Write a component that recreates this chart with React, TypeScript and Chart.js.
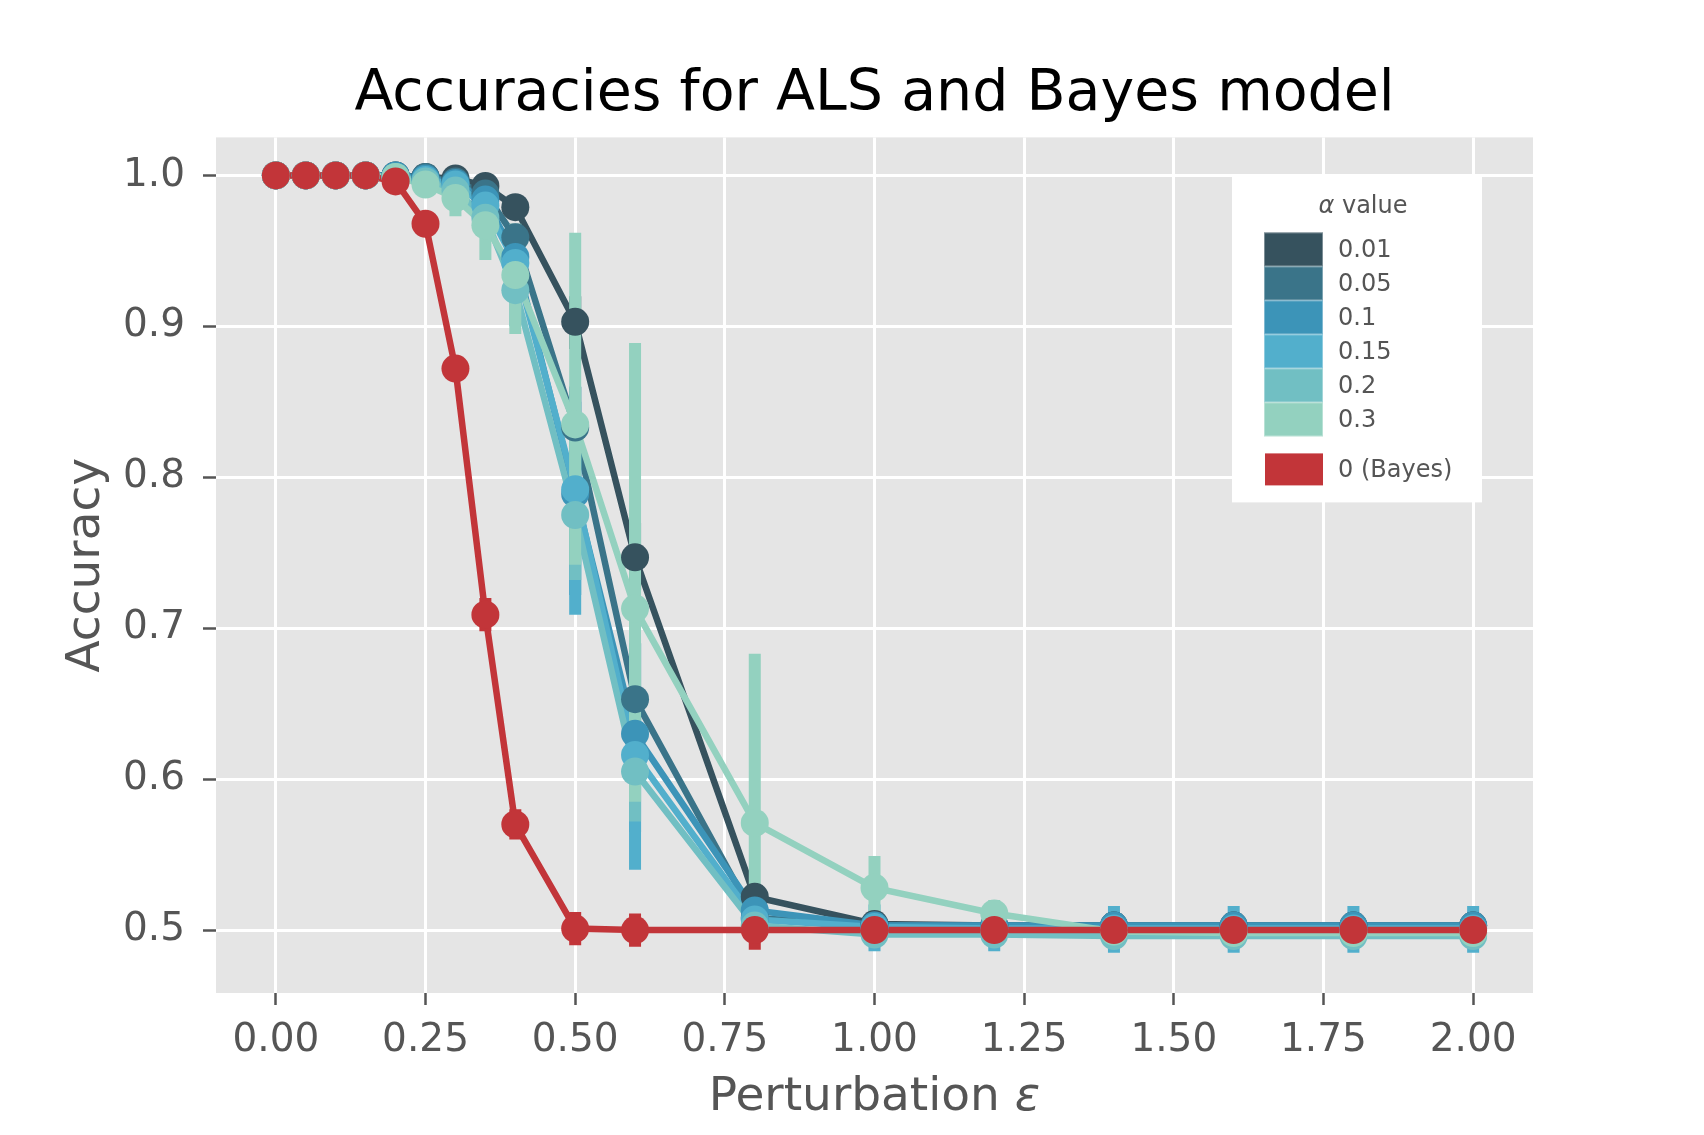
import { Chart, registerables } from "chart.js";
import { useEffect, useRef } from "react";

Chart.register(...registerables);

// perturbation epsilon values where accuracy was measured
const epsilons = [0, 0.05, 0.1, 0.15, 0.2, 0.25, 0.3, 0.35, 0.4, 0.5, 0.6, 0.8, 1.0, 1.2, 1.4, 1.6, 1.8, 2.0];

const xTicks = [0, 0.25, 0.5, 0.75, 1.0, 1.25, 1.5, 1.75, 2.0];
const yTicks = [0.5, 0.6, 0.7, 0.8, 0.9, 1.0];

const alphaLabels = ["0.01", "0.05", "0.1", "0.15", "0.2", "0.3"];
const bayesLabel = "0 (Bayes)";

// mean accuracy per alpha (ALS) and for Bayes
const als001 = [1, 1, 1, 1, 1.0, 0.999, 0.998, 0.993, 0.979, 0.903, 0.747, 0.522, 0.504, 0.503, 0.503, 0.503, 0.503, 0.503];
const als005 = [1, 1, 1, 1, 1.0, 0.999, 0.996, 0.988, 0.959, 0.833, 0.653, 0.508, 0.503, 0.503, 0.503, 0.503, 0.503, 0.503];
const als01 = [1, 1, 1, 1, 1.0, 0.998, 0.995, 0.984, 0.946, 0.789, 0.63, 0.513, 0.503, 0.503, 0.503, 0.503, 0.503, 0.503];
const als015 = [1, 1, 1, 1, 0.999, 0.997, 0.994, 0.98, 0.942, 0.792, 0.616, 0.507, 0.502, 0.501, 0.501, 0.501, 0.501, 0.501];
const als02 = [1, 1, 1, 1, 0.999, 0.996, 0.99, 0.972, 0.924, 0.775, 0.605, 0.503, 0.497, 0.497, 0.496, 0.496, 0.496, 0.496];
const als03 = [1, 1, 1, 1, 0.999, 0.994, 0.985, 0.967, 0.934, 0.835, 0.713, 0.571, 0.528, 0.511, 0.499, 0.498, 0.498, 0.498];
const bayes = [1, 1, 1, 1, 0.996, 0.968, 0.872, 0.709, 0.57, 0.501, 0.5, 0.5, 0.5, 0.5, 0.5, 0.5, 0.5, 0.5];

// confidence interval bounds (null = too small to show)
const n = null;
const als001Lo = [n, n, n, n, n, n, n, 0.989, 0.972, 0.885, 0.725, 0.514, 0.5, 0.5, 0.5, 0.5, 0.5, 0.5];
const als001Hi = [n, n, n, n, n, n, n, 0.996, 0.985, 0.92, 0.77, 0.53, 0.507, 0.506, 0.506, 0.506, 0.506, 0.506];
const als005Lo = [n, n, n, n, n, n, n, 0.982, 0.948, 0.8, 0.62, 0.5, 0.499, 0.499, 0.499, 0.499, 0.499, 0.499];
const als005Hi = [n, n, n, n, n, n, n, 0.993, 0.968, 0.86, 0.69, 0.516, 0.507, 0.507, 0.507, 0.507, 0.507, 0.507];
const als01Lo = [n, n, n, n, n, n, n, 0.976, 0.93, 0.722, 0.565, 0.5, 0.497, 0.497, 0.497, 0.497, 0.497, 0.497];
const als01Hi = [n, n, n, n, n, n, n, 0.99, 0.96, 0.85, 0.69, 0.525, 0.509, 0.509, 0.509, 0.509, 0.509, 0.509];
const als015Lo = [n, n, n, n, n, n, n, 0.97, 0.925, 0.709, 0.54, 0.494, 0.486, 0.486, 0.485, 0.485, 0.485, 0.485];
const als015Hi = [n, n, n, n, n, n, n, 0.99, 0.958, 0.86, 0.69, 0.52, 0.517, 0.517, 0.516, 0.516, 0.516, 0.516];
const als02Lo = [n, n, n, n, n, n, n, 0.96, 0.9, 0.732, 0.572, 0.494, 0.492, 0.492, 0.491, 0.491, 0.491, 0.491];
const als02Hi = [n, n, n, n, n, n, n, 0.983, 0.945, 0.83, 0.65, 0.513, 0.503, 0.503, 0.502, 0.502, 0.502, 0.502];
const als03Lo = [n, n, n, n, n, 0.99, 0.973, 0.944, 0.895, 0.742, 0.585, 0.5, 0.507, 0.503, 0.495, 0.495, 0.495, 0.495];
const als03Hi = [n, n, n, n, n, 0.998, 0.995, 0.988, 0.968, 0.962, 0.889, 0.683, 0.549, 0.52, 0.503, 0.502, 0.502, 0.502];
const bayesLo = [n, n, n, n, n, 0.962, 0.864, 0.698, 0.56, 0.49, 0.489, 0.487, n, n, n, n, n, n];
const bayesHi = [n, n, n, n, n, 0.974, 0.88, 0.72, 0.58, 0.512, 0.511, 0.51, n, n, n, n, n, n];

const alphaColors = ["#36525e", "#3a7489", "#3c94b8", "#52afcc", "#71bfc3", "#93d1bf"];
const bayesColor = "#c23539";

const FONT = "DejaVu Sans";

const series = [
  { label: alphaLabels[0], color: alphaColors[0], values: als001, lo: als001Lo, hi: als001Hi },
  { label: alphaLabels[1], color: alphaColors[1], values: als005, lo: als005Lo, hi: als005Hi },
  { label: alphaLabels[2], color: alphaColors[2], values: als01, lo: als01Lo, hi: als01Hi },
  { label: alphaLabels[3], color: alphaColors[3], values: als015, lo: als015Lo, hi: als015Hi },
  { label: alphaLabels[4], color: alphaColors[4], values: als02, lo: als02Lo, hi: als02Hi },
  { label: alphaLabels[5], color: alphaColors[5], values: als03, lo: als03Lo, hi: als03Hi },
  { label: bayesLabel, color: bayesColor, values: bayes, lo: bayesLo, hi: bayesHi },
];

const backgroundPlugin = {
  id: "ggBackground",
  beforeDraw(chart: any) {
    const { ctx, chartArea } = chart;
    ctx.save();
    ctx.fillStyle = "#ffffff";
    ctx.fillRect(0, 0, chart.width, chart.height);
    ctx.fillStyle = "#e5e5e5";
    ctx.fillRect(chartArea.left, chartArea.top, chartArea.width, chartArea.height);
    ctx.restore();
  },
};

// draws the confidence intervals right after each line dataset
const errorBarPlugin = {
  id: "errorBars",
  afterDatasetDraw(chart: any, args: any) {
    const ds = chart.data.datasets[args.index];
    if (!ds.errLo) return;
    const { ctx, chartArea } = chart;
    const xs = chart.scales.x;
    const ys = chart.scales.y;
    ctx.save();
    ctx.beginPath();
    ctx.rect(chartArea.left, chartArea.top, chartArea.width, chartArea.height);
    ctx.clip();
    ctx.strokeStyle = ds.borderColor;
    ctx.lineWidth = 12;
    ctx.lineCap = "butt";
    epsilons.forEach((e, j) => {
      const lo = ds.errLo[j];
      const hi = ds.errHi[j];
      if (lo == null || hi == null) return;
      const px = xs.getPixelForValue(e);
      ctx.beginPath();
      ctx.moveTo(px, ys.getPixelForValue(lo));
      ctx.lineTo(px, ys.getPixelForValue(hi));
      ctx.stroke();
    });
    ctx.restore();
  },
};

// x axis title, with an italic epsilon like matplotlib mathtext
const xTitlePlugin = {
  id: "xTitle",
  afterDraw(chart: any) {
    const { ctx, chartArea } = chart;
    const a = "Perturbation ";
    const b = "ε";
    ctx.save();
    ctx.fillStyle = "#555555";
    ctx.textBaseline = "alphabetic";
    ctx.textAlign = "left";
    ctx.font = `47px ${FONT}`;
    const aW = ctx.measureText(a).width;
    ctx.font = `italic 47px ${FONT}`;
    const bW = ctx.measureText(b).width;
    const x0 = (chartArea.left + chartArea.right) / 2 - (aW + bW) / 2;
    const y0 = chartArea.bottom + 117;
    ctx.font = `47px ${FONT}`;
    ctx.fillText(a, x0, y0);
    ctx.font = `italic 47px ${FONT}`;
    ctx.fillText(b, x0 + aW, y0);
    ctx.restore();
  },
};

const legendPlugin = {
  id: "alphaLegend",
  afterDraw(chart: any) {
    const { ctx, chartArea } = chart;
    const left = chartArea.right - 301;
    const top = chartArea.top + 37;
    const w = 250;
    const h = 328;
    ctx.save();
    ctx.fillStyle = "#ffffff";
    ctx.fillRect(left, top, w, h);

    // title with italic alpha
    ctx.fillStyle = "#555555";
    ctx.textBaseline = "alphabetic";
    ctx.font = `italic 24px ${FONT}`;
    const aW = ctx.measureText("α").width;
    ctx.font = `24px ${FONT}`;
    const rest = " value";
    const rW = ctx.measureText(rest).width;
    const tx = left + 131 - (aW + rW) / 2;
    ctx.font = `italic 24px ${FONT}`;
    ctx.textAlign = "left";
    ctx.fillText("α", tx, top + 39);
    ctx.font = `24px ${FONT}`;
    ctx.fillText(rest, tx + aW, top + 39);

    ctx.font = `24px ${FONT}`;
    ctx.textBaseline = "middle";
    alphaLabels.forEach((lab, i) => {
      const by = top + 58 + i * 34;
      ctx.fillStyle = alphaColors[i];
      ctx.fillRect(left + 32, by, 59, 34);
      ctx.strokeStyle = "rgba(255,255,255,0.35)";
      ctx.lineWidth = 1;
      ctx.strokeRect(left + 32.5, by + 0.5, 58, 33);
      ctx.fillStyle = "#555555";
      ctx.fillText(lab, left + 106, by + 18);
    });
    const ry = top + 279;
    ctx.fillStyle = bayesColor;
    ctx.fillRect(left + 33, ry, 58, 32);
    ctx.fillStyle = "#555555";
    ctx.fillText(bayesLabel, left + 106, ry + 17);
    ctx.restore();
  },
};

export default function App() {
  const canvasRef = useRef<HTMLCanvasElement>(null);
  const chartRef = useRef<Chart | null>(null);

  useEffect(() => {
    document.body.style.margin = "0";
    if (!canvasRef.current) return;
    if (chartRef.current) chartRef.current.destroy();

    const lineSets = series.map((s, i) => ({
      type: "line" as const,
      label: s.label,
      data: epsilons.map((e, j) => ({ x: e, y: s.values[j] })),
      borderColor: s.color,
      backgroundColor: s.color,
      borderWidth: 6.5,
      pointRadius: 0,
      pointHoverRadius: 0,
      showLine: true,
      tension: 0,
      order: 20 - i,
      errLo: s.lo,
      errHi: s.hi,
    }));
    const pointSets = series.map((s, i) => ({
      type: "line" as const,
      label: s.label + " points",
      data: epsilons.map((e, j) => ({ x: e, y: s.values[j] })),
      borderColor: s.color,
      backgroundColor: s.color,
      pointBackgroundColor: s.color,
      pointBorderWidth: 0,
      pointRadius: 14,
      showLine: false,
      order: 10 - i,
    }));

    chartRef.current = new Chart(canvasRef.current, {
      type: "line",
      data: { datasets: [...lineSets, ...pointSets] as any },
      options: {
        animation: false,
        responsive: false,
        devicePixelRatio: 1,
        layout: { padding: { right: 171, left: 0, top: 0, bottom: 0 } },
        plugins: {
          legend: { display: false },
          tooltip: { enabled: false },
          title: {
            display: true,
            text: "Accuracies for ALS and Bayes model",
            color: "#000000",
            fullSize: false,
            font: { family: FONT, size: 57, weight: "normal" },
            padding: { top: 61, bottom: 8 },
          },
        },
        scales: {
          x: {
            type: "linear",
            min: -0.1,
            max: 2.1,
            afterBuildTicks: (s: any) => {
              s.ticks = xTicks.map((v) => ({ value: v }));
            },
            afterFit: (s: any) => {
              s.height = 142;
            },
            ticks: {
              callback: (v: any) => Number(v).toFixed(2),
              color: "#555555",
              font: { family: FONT, size: 39 },
              padding: 12,
              maxRotation: 0,
              autoSkip: false,
            },
            grid: { color: "#ffffff", lineWidth: 3, tickColor: "#555555", tickWidth: 2.5, tickLength: 12 },
            border: { display: false },
            title: { display: false },
          },
          y: {
            type: "linear",
            min: 0.4583,
            max: 1.0252,
            afterBuildTicks: (s: any) => {
              s.ticks = yTicks.map((v) => ({ value: v }));
            },
            afterFit: (s: any) => {
              s.width = 216;
            },
            ticks: {
              callback: (v: any) => Number(v).toFixed(1),
              color: "#555555",
              font: { family: FONT, size: 39 },
              padding: 18,
            },
            grid: { color: "#ffffff", lineWidth: 3, tickColor: "#555555", tickWidth: 2.5, tickLength: 13 },
            border: { display: false },
            title: {
              display: true,
              text: "Accuracy",
              color: "#555555",
              font: { family: FONT, size: 47 },
              padding: { top: 59, bottom: 0 },
            },
          },
        },
      },
      plugins: [backgroundPlugin, errorBarPlugin, xTitlePlugin, legendPlugin],
    });

    return () => {
      if (chartRef.current) {
        chartRef.current.destroy();
        chartRef.current = null;
      }
    };
  }, []);

  return (
    <div style={{ width: 1704, height: 1135 }}>
      <canvas ref={canvasRef} width={1704} height={1135} style={{ width: 1704, height: 1135 }} />
    </div>
  );
}
